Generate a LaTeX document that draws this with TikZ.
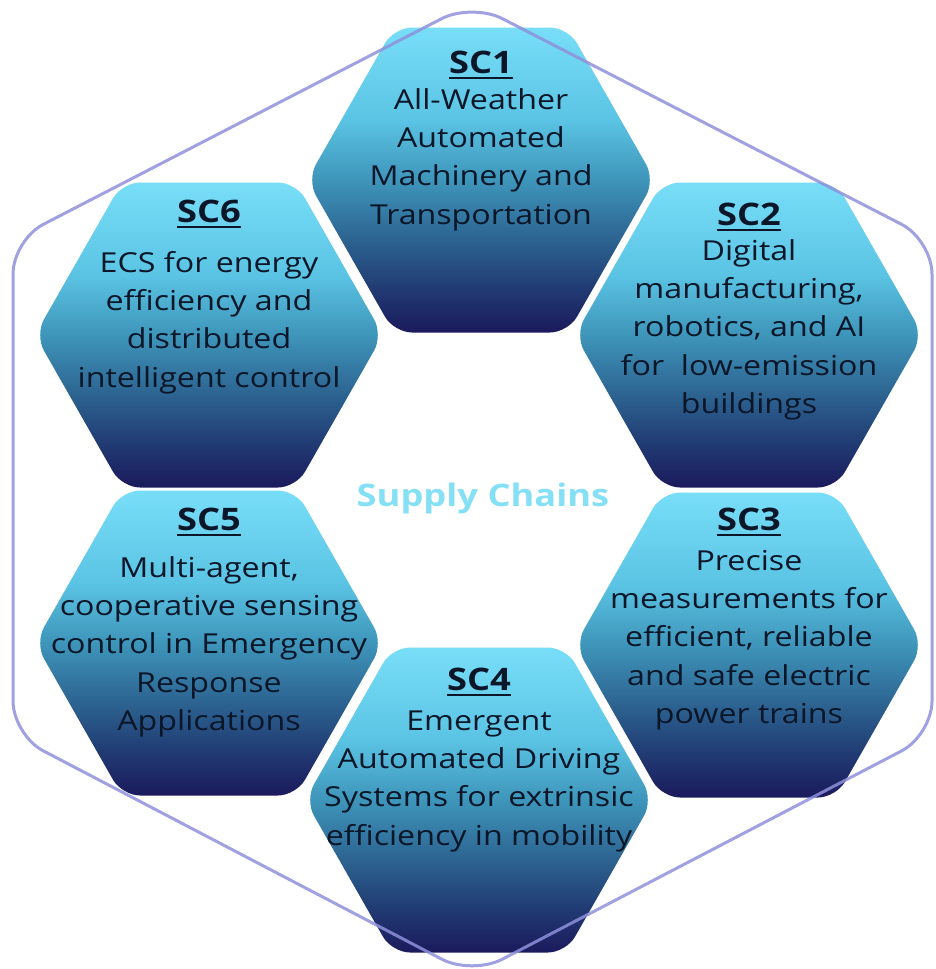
\documentclass[tikz,border=0pt]{standalone}
\usepackage{fontspec}
\setmainfont{Open Sans}[FakeStretch=1.17]
\definecolor{hextop}{HTML}{78DEF8}
\definecolor{hexlt}{HTML}{5BC4E4}
\definecolor{hexmid}{HTML}{3E95BA}
\definecolor{hexdk}{HTML}{2C6290}
\definecolor{hexdker}{HTML}{213C74}
\definecolor{hexbot}{HTML}{1B1A5C}
\definecolor{txtc}{HTML}{0B1628}
\definecolor{ringc}{HTML}{8E90DA}
\definecolor{supc}{HTML}{86E0F5}
\pgfdeclareverticalshading{hexshade}{100bp}{color(0bp)=(hexbot); color(25bp)=(hexbot); color(32.5bp)=(hexdker); color(40bp)=(hexdk); color(50bp)=(hexmid); color(60bp)=(hexlt); color(75bp)=(hextop); color(100bp)=(hextop)}
\tikzset{
  hexfill/.style={shading=hexshade, rounded corners=18pt},
  ring/.style={draw=ringc, line width=3pt, rounded corners=34pt, opacity=0.85},
  sctitle/.style={font=\fontsize{31}{36}\selectfont\bfseries, text=txtc, inner sep=0pt, anchor=base},
  scbody/.style={font=\fontsize{27.5}{38.3}\selectfont, text=txtc, inner sep=0pt, anchor=north, align=center},
  uline/.style={draw=txtc, line width=2pt},
}
\newcommand{\hexat}[2]{%
  \path[hexfill] (#1+174,#2) -- (#1+87,#2-152.5) -- (#1-87,#2-152.5) -- (#1-174,#2) -- (#1-87,#2+152.5) -- (#1+87,#2+152.5) -- cycle;}
\newcommand{\fl}{\rule{0pt}{24pt}}
\begin{document}
\begin{tikzpicture}[x=1pt,y=-1pt]
\useasboundingbox (0,0) rectangle (935,969);
% hexagons
\hexat{481}{180}
\hexat{749}{335}
\hexat{749}{645}
\hexat{479}{800}
\hexat{209}{643}
\hexat{209}{335}
% SC1
\node[sctitle] (t1) at (481,73) {SC1};
\draw[uline] ([yshift=-4.5pt]t1.base west) -- ([yshift=-4.5pt]t1.base east);
\node[scbody] (b1) at (481,85) {\fl All-Weather\\Automated\\Machinery and\\Transportation};
% SC2
\node[sctitle] (t2) at (749,225) {SC2};
\draw[uline] ([yshift=-4.5pt]t2.base west) -- ([yshift=-4.5pt]t2.base east);
\node[scbody] (b2) at (749,236) {\fl Digital\\manufacturing,\\robotics, and AI\\for\ \ low-emission\\buildings};
% SC3
\node[sctitle] (t3) at (749,530) {SC3};
\draw[uline] ([yshift=-4.5pt]t3.base west) -- ([yshift=-4.5pt]t3.base east);
\node[scbody] (b3) at (749,546) {\fl Precise\\measurements for\\efficient, reliable\\and safe electric\\power trains};
% SC4
\node[sctitle] (t4) at (479,690) {SC4};
\draw[uline] ([yshift=-4.5pt]t4.base west) -- ([yshift=-4.5pt]t4.base east);
\node[scbody] (b4) at (479,706) {\fl Emergent\\Automated Driving\\Systems for extrinsic\\efficiency in mobility};
% SC5
\node[sctitle] (t5) at (209,530) {SC5};
\draw[uline] ([yshift=-4.5pt]t5.base west) -- ([yshift=-4.5pt]t5.base east);
\node[scbody] (b5) at (209,553) {\fl Multi-agent,\\cooperative sensing\\control in Emergency\\Response\\Applications};
% SC6
\node[sctitle] (t6) at (209,222) {SC6};
\draw[uline] ([yshift=-4.5pt]t6.base west) -- ([yshift=-4.5pt]t6.base east);
\node[scbody] (b6) at (209,248) {\fl ECS for energy\\efficiency and\\distributed\\intelligent control};
% center label
\node[font=\fontsize{31}{36}\selectfont\bfseries, text=supc, inner sep=0pt] (sup) at (483,498) {Supply Chains};
% outer ring
\draw[ring] (472,3) -- (932,240) -- (932,735) -- (472,975) -- (13,735) -- (13,240) -- cycle;
\end{tikzpicture}
\end{document}
